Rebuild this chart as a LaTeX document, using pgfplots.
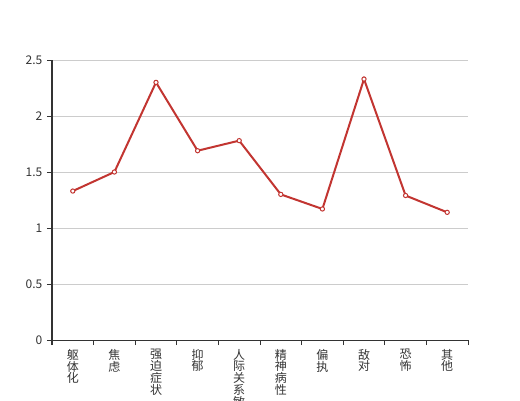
\documentclass[border=0pt]{standalone}
\usepackage{fontspec}
\setmainfont{Noto Sans CJK SC}
\usepackage{pgfplots}
\pgfplotsset{compat=1.18}
\definecolor{linered}{HTML}{C23531}
\definecolor{gridc}{HTML}{CCCCCC}
\definecolor{axc}{HTML}{333333}
\begin{document}
\begin{tikzpicture}
\begin{axis}[
 scale only axis, width=312pt, height=210pt,
 xmin=-0.5, xmax=9.5, ymin=0, ymax=2.5,
 axis x line*=bottom, axis y line*=left,
 axis line style={axc, line width=0.75pt},
 xtick={0,...,9},
 xticklabels={{躯\\体\\化},{焦\\虑},{强\\迫\\症\\状},{抑\\郁},{人\\际\\关\\系\\敏\\感},{精\\神\\病\\性},{偏\\执},{敌\\对},{恐\\怖},{其\\他}},
 xticklabel style={align=center, font=\fontsize{9}{8.9}\selectfont, anchor=north, text=axc, yshift=0.5pt},
 major x tick style={draw=none},
 minor xtick={-0.5,0.5,...,9.5},
 tick align=outside,
 major tick length=3.75pt, minor tick length=3.75pt,
 tick style={axc, line width=0.75pt},
 ytick={0,0.5,...,2.5},
 yticklabel style={font=\fontsize{9}{9}\selectfont, text=axc},
 /pgf/number format/assume math mode=true,
 ymajorgrids, grid style={gridc, line width=0.75pt},
]
\addplot[color=linered, line width=1.5pt, mark=*, mark size=1.6pt,
  mark options={fill=white, draw=linered, line width=0.75pt}]
 coordinates {(0,1.33) (1,1.50) (2,2.30) (3,1.69) (4,1.78) (5,1.30) (6,1.17) (7,2.33) (8,1.29) (9,1.14)};
\end{axis}
\pgfresetboundingbox
\useasboundingbox ([xshift=-39pt,yshift=-45pt]current axis.south west) rectangle ([xshift=351pt,yshift=255pt]current axis.south west);
\end{tikzpicture}
\end{document}
